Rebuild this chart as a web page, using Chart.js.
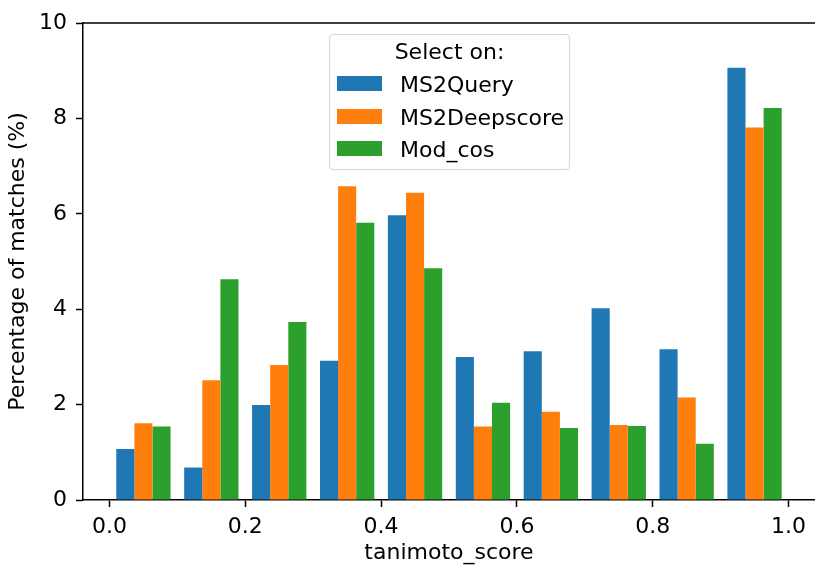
<!DOCTYPE html>
<html>
<head>
<meta charset="utf-8">
<script src="https://cdn.jsdelivr.net/npm/chart.js@4.4.1/dist/chart.umd.min.js"></script>
<style>
  body { margin: 0; background: #fff; font-family: 'DejaVu Sans', sans-serif; }
  #wrap { position: relative; width: 815px; height: 566px; }
  #legend {
    position: absolute; left: 329px; top: 34px; width: 241px; height: 136px;
    border: 1px solid #d6d6d6; border-radius: 4px; background: rgba(255,255,255,0.85);
    font-size: 22px; line-height: 26px; color: #000; box-sizing: border-box;
  }
  #legend .title { position: absolute; left: 0; right: 0; top: 4px; text-align: center; }
  #legend .sw { position: absolute; left: 7px; width: 45px; height: 15px; }
  #legend .lbl { position: absolute; left: 70px; white-space: nowrap; }
</style>
</head>
<body>
<div id="wrap">
  <canvas id="chart"></canvas>
  <div id="legend"></div>
</div>
<script>
const binCenters = [0.05, 0.15, 0.25, 0.35, 0.45, 0.55, 0.65, 0.75, 0.85, 0.95];
const ms2query = [1.07, 0.68, 1.99, 2.92, 5.97, 3.00, 3.12, 4.02, 3.16, 9.06];
const ms2deepscore = [1.61, 2.51, 2.83, 6.58, 6.44, 1.54, 1.85, 1.57, 2.15, 7.81];
const modCos = [1.54, 4.63, 3.73, 5.81, 4.86, 2.04, 1.51, 1.55, 1.18, 8.22];
const xTicks = [0.0, 0.2, 0.4, 0.6, 0.8, 1.0];
const seriesNames = ['MS2Query', 'MS2Deepscore', 'Mod_cos'];
const colors = ['#1f77b4', '#ff7f0e', '#2ca02c'];

Chart.defaults.font.family = "'DejaVu Sans', sans-serif";
Chart.defaults.font.size = 22;
Chart.defaults.color = '#000';

// legend drawn as html on top of the plot
const legend = document.getElementById('legend');
legend.innerHTML = '<div class="title">Select on:</div>' + seriesNames.map((name, i) => {
  const top = 41 + 32.5 * i;
  return `<span class="sw" style="top:${top}px;background:${colors[i]}"></span>` +
    `<span class="lbl" style="top:${top - 4}px">${name}</span>`;
}).join('');

const toPoints = (vals) => vals.map((v, i) => ({ x: binCenters[i], y: v }));

// top spine like matplotlib
const topSpine = {
  id: 'topSpine',
  afterDraw(chart) {
    const { ctx, chartArea } = chart;
    ctx.save();
    ctx.strokeStyle = '#000';
    ctx.lineWidth = 1.5;
    ctx.beginPath();
    ctx.moveTo(chartArea.left, chartArea.top);
    ctx.lineTo(chartArea.right, chartArea.top);
    ctx.stroke();
    ctx.restore();
  }
};

const datasets = [ms2query, ms2deepscore, modCos].map((vals, i) => ({
  label: seriesNames[i],
  data: toPoints(vals),
  backgroundColor: colors[i],
  borderWidth: 0,
  categoryPercentage: 0.8,
  barPercentage: 1.0
}));

new Chart(document.getElementById('chart'), {
  type: 'bar',
  data: { datasets },
  plugins: [topSpine],
  options: {
    responsive: true,
    maintainAspectRatio: false,
    animation: false,
    layout: { padding: { top: 23, right: 0, left: 0, bottom: 0 } },
    plugins: {
      legend: { display: false },
      tooltip: { enabled: false }
    },
    scales: {
      x: {
        type: 'linear',
        min: -0.039,
        max: 1.039,
        offset: false,
        afterBuildTicks: (scale) => { scale.ticks = xTicks.map(v => ({ value: v })); },
        afterFit: (scale) => { scale.height = 66; },
        ticks: {
          padding: 7,
          maxRotation: 0,
          callback: (v) => Number(v).toFixed(1)
        },
        grid: { offset: false, drawOnChartArea: false, drawTicks: true, tickLength: 7, tickWidth: 1.5, tickColor: '#000' },
        border: { display: true, color: '#000', width: 1.5 },
        title: { display: true, text: 'tanimoto_score', padding: { top: 0, bottom: 0 } }
      },
      y: {
        min: 0,
        max: 10,
        afterFit: (scale) => { scale.width = 83; },
        ticks: { stepSize: 2, padding: 9, callback: (v) => String(v) },
        grid: { drawOnChartArea: false, drawTicks: true, tickLength: 7, tickWidth: 1.5, tickColor: '#000' },
        border: { display: true, color: '#000', width: 1.5 },
        title: { display: true, text: 'Percentage of matches (%)', padding: { top: 5, bottom: 0 } }
      }
    }
  }
});
</script>
</body>
</html>
